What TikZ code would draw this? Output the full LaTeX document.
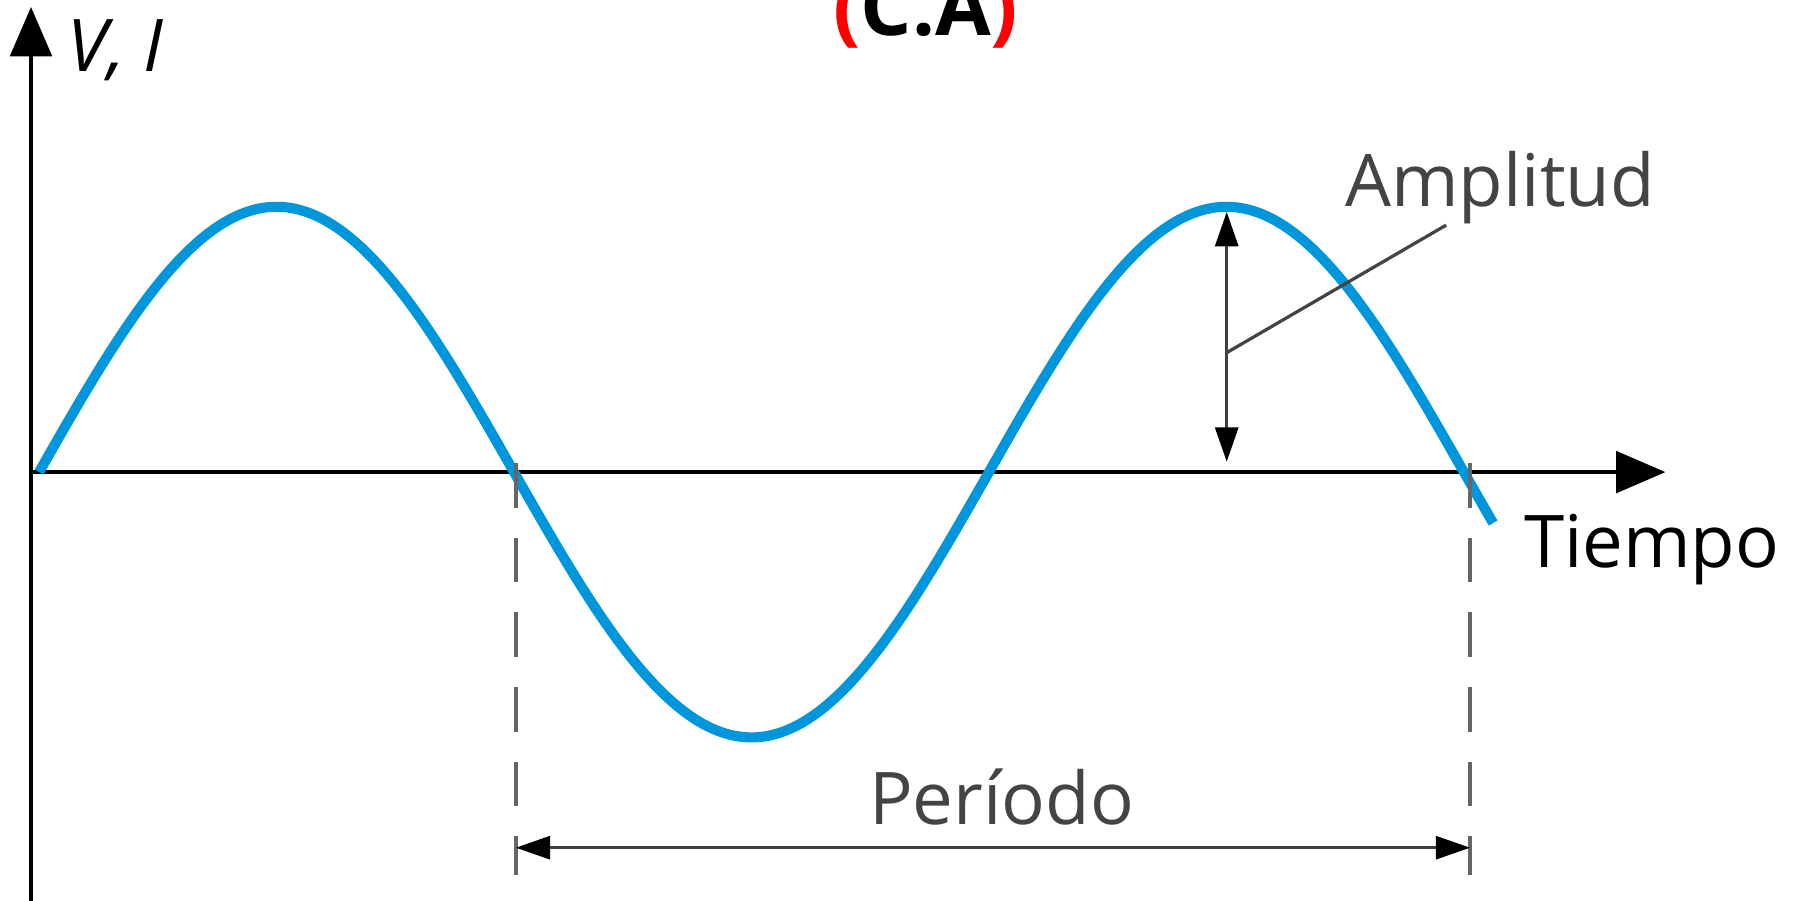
\documentclass[tikz,border=0pt]{standalone}
\usepackage{fontspec}
\setmainfont{Open Sans}
\usepackage{xcolor}
\usetikzlibrary{arrows.meta}
\definecolor{ondacolor}{RGB}{0,150,219}
\definecolor{textogris}{RGB}{68,68,68}

\begin{document}
\begin{tikzpicture}[scale=1,
		eje/.style={black, line width=1.1pt, -{Triangle[length=0.43cm, width=0.36cm]}},
		guia/.style={black!60, line width=0.9pt, dash pattern=on 0.39cm off 0.26cm},
		medida/.style={black!75, line width=0.8pt, {Triangle[length=0.3cm, width=0.2cm, color=black]}-{Triangle[length=0.3cm, width=0.2cm, color=black]}},
		etiqueta/.style={textogris, font=\fontsize{18}{21}\selectfont}
	]
		
		\useasboundingbox (0, 0) rectangle (15.68, -7.84);
		\clip (0, 0) rectangle (15.68, -7.84);
		
		% titulo
		\node[anchor=base, font=\bfseries\fontsize{20}{24}\selectfont] (titulo) at (8.06, -0.305) {\textcolor{red}{(}C.A\textcolor{red}{)}};
		
		% ejes
		\coordinate (O) at (0.27, -4.11);
		\coordinate (yinf) at (0.27, -7.90);
		\coordinate (ysup) at (0.27, -0.06);
		\coordinate (xfin) at (14.50, -4.11);
		\draw[eje] (yinf) -- (ysup);
		\draw[eje] (O) -- (xfin);
		
		\node[anchor=base west, font=\itshape\fontsize{18}{21}\selectfont] (vi) at (0.46, -0.625) {V, I};
		\node[anchor=base, black, font=\fontsize{18}{21}\selectfont] (tiempo) at (14.38, -4.94) {Tiempo};
		
		% onda
		\draw[ondacolor, line width=2.5pt] plot[domain=0.34:13.0, samples=200, smooth] (\x, {-4.11 + 2.31*sin(360*(\x-0.34)/8.27)});
		
		% periodo
		\coordinate (p1) at (4.49, -4.03);
		\coordinate (p2) at (12.80, -4.03);
		\coordinate (q1) at (4.49, -7.62);
		\coordinate (q2) at (12.80, -7.62);
		\draw[guia] (p1) -- (q1);
		\draw[guia] (p2) -- (q2);
		
		\coordinate (r1) at (4.49, -7.38);
		\coordinate (r2) at (12.80, -7.38);
		\draw[medida] (r1) -- (r2);
		\node[etiqueta, anchor=base] (periodo) at (8.72, -7.18) {Período};
		
		% amplitud
		\coordinate (pico) at (10.68, -1.845);
		\coordinate (cero) at (10.68, -4.02);
		\draw[medida] (cero) -- (pico);
		
		\coordinate (amedio) at (10.68, -3.07);
		\coordinate (afin) at (12.59, -1.96);
		\draw[textogris, line width=0.8pt] (amedio) -- (afin);
		\node[etiqueta, anchor=base] (amp) at (13.06, -1.80) {Amplitud};
		
	\end{tikzpicture}
\end{document}
